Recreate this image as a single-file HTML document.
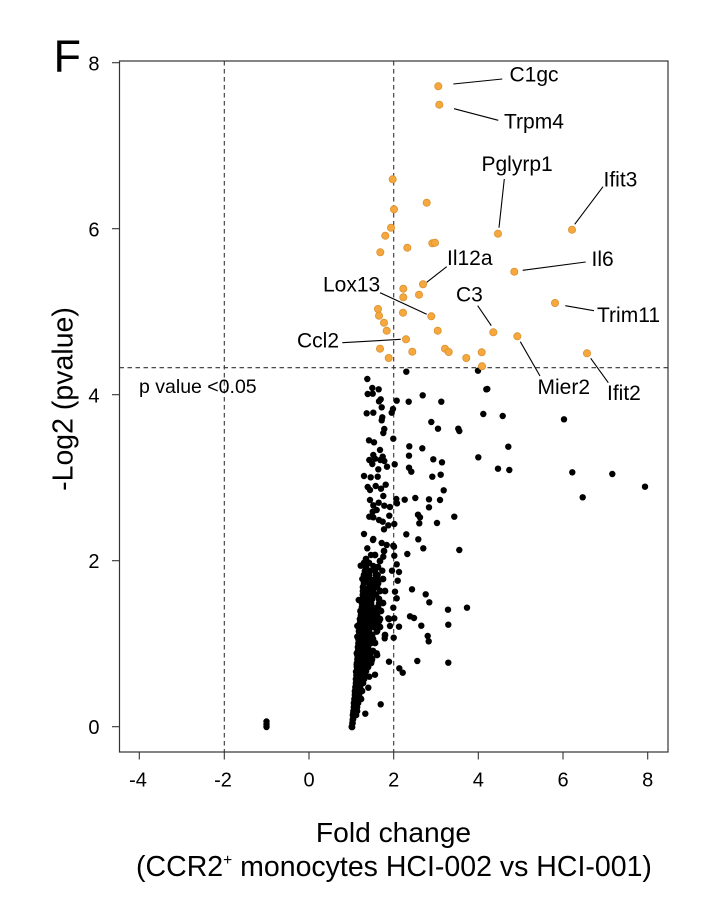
<!DOCTYPE html>
<html>
<head>
<meta charset="utf-8">
<style>
html,body{margin:0;padding:0;background:#fff;}
svg{display:block;}
text{font-family:"Liberation Sans",Arial,sans-serif;fill:#000;}
</style>
</head>
<body>
<svg width="722" height="900" viewBox="0 0 722 900" xmlns="http://www.w3.org/2000/svg">
<rect x="0" y="0" width="722" height="900" fill="#fff"/>

<!-- Panel letter -->
<text x="53.5" y="71.7" font-size="45">F</text>

<!-- plot box -->
<rect x="119.5" y="61" width="548.5" height="691" fill="none" stroke="#333" stroke-width="1.2"/>

<!-- dashed lines -->
<g stroke="#333" stroke-width="1.1" stroke-dasharray="4.5,3.5" fill="none">
<line x1="224.3" y1="61" x2="224.3" y2="752"/>
<line x1="393.7" y1="61" x2="393.7" y2="752"/>
<line x1="119.5" y1="367.7" x2="668" y2="367.7"/>
</g>

<!-- y ticks -->
<g stroke="#333" stroke-width="1.1">
<line x1="112" y1="726.7" x2="119.5" y2="726.7"/>
<line x1="112" y1="560.7" x2="119.5" y2="560.7"/>
<line x1="112" y1="394.7" x2="119.5" y2="394.7"/>
<line x1="112" y1="228.7" x2="119.5" y2="228.7"/>
<line x1="112" y1="62.7" x2="119.5" y2="62.7"/>
<!-- x ticks -->
<line x1="139.3" y1="752" x2="139.3" y2="759.5"/>
<line x1="224.3" y1="752" x2="224.3" y2="759.5"/>
<line x1="309" y1="752" x2="309" y2="759.5"/>
<line x1="393.7" y1="752" x2="393.7" y2="759.5"/>
<line x1="478.3" y1="752" x2="478.3" y2="759.5"/>
<line x1="563" y1="752" x2="563" y2="759.5"/>
<line x1="647.7" y1="752" x2="647.7" y2="759.5"/>
</g>

<g font-size="20" text-anchor="end">
<text x="99.5" y="734">0</text>
<text x="99.5" y="568">2</text>
<text x="99.5" y="402.5">4</text>
<text x="99.5" y="236.5">6</text>
<text x="99.5" y="70.5">8</text>
</g>
<g font-size="20" text-anchor="middle">
<text x="138" y="786.7">-4</text>
<text x="223" y="786.7">-2</text>
<text x="309" y="786.7">0</text>
<text x="393.7" y="786.7">2</text>
<text x="478.3" y="786.7">4</text>
<text x="563" y="786.7">6</text>
<text x="647.7" y="786.7">8</text>
</g>

<!-- axis labels -->
<text transform="translate(72.5,399) rotate(-90)" font-size="28.5" text-anchor="middle">-Log2 (pvalue)</text>
<text x="393.5" y="842" font-size="28.2" text-anchor="middle">Fold change</text>
<text x="394" y="876" font-size="28.5" text-anchor="middle">(CCR2<tspan font-size="15.5" dy="-11">+</tspan><tspan dy="11"> monocytes HCI-002 vs HCI-001)</tspan></text>

<text x="139" y="393" font-size="19.5">p value &lt;0.05</text>

<!-- black points -->
<g fill="#000">
<circle cx="266.5" cy="721.5" r="3.2"/><circle cx="266.5" cy="724.5" r="3.2"/><circle cx="266.5" cy="727" r="3.2"/>
<!-- sparse/listed -->
<circle cx="406.3" cy="371.7" r="3.2"/><circle cx="478" cy="370.7" r="3.2"/><circle cx="367.3" cy="379" r="3.2"/>
<circle cx="372.3" cy="388" r="3.2"/><circle cx="378.7" cy="389.3" r="3.2"/><circle cx="367.7" cy="394" r="3.2"/>
<circle cx="372.7" cy="393.7" r="3.2"/><circle cx="486.3" cy="389.3" r="3.2"/><circle cx="422.7" cy="395.3" r="3.2"/>
<circle cx="380.7" cy="399.3" r="3.2"/><circle cx="379" cy="401.3" r="3.2"/><circle cx="396.7" cy="400.7" r="3.2"/>
<circle cx="408.7" cy="401.7" r="3.2"/><circle cx="441.3" cy="401.7" r="3.2"/><circle cx="381.7" cy="407.3" r="3.2"/>
<circle cx="393" cy="409" r="3.2"/><circle cx="366.7" cy="413.3" r="3.2"/><circle cx="373.3" cy="412.7" r="3.2"/>
<circle cx="391.7" cy="412.7" r="3.2"/><circle cx="483.3" cy="414" r="3.2"/><circle cx="382.3" cy="417.3" r="3.2"/>
<circle cx="381.7" cy="420.3" r="3.2"/><circle cx="431.3" cy="422" r="3.2"/><circle cx="438" cy="428.7" r="3.2"/>
<circle cx="458.3" cy="428.7" r="3.2"/><circle cx="459.3" cy="431" r="3.2"/><circle cx="384.3" cy="429" r="3.2"/>
<circle cx="383.3" cy="433" r="3.2"/><circle cx="393.3" cy="438.7" r="3.2"/><circle cx="369" cy="440.3" r="3.2"/>
<circle cx="374" cy="442.3" r="3.2"/><circle cx="409.3" cy="446.3" r="3.2"/><circle cx="422.3" cy="448.3" r="3.2"/>
<circle cx="380" cy="450" r="3.2"/><circle cx="373.3" cy="455" r="3.2"/><circle cx="382.7" cy="456.7" r="3.2"/>
<circle cx="369.3" cy="460" r="3.2"/><circle cx="375" cy="458.7" r="3.2"/><circle cx="380.3" cy="460" r="3.2"/>
<circle cx="384.3" cy="461" r="3.2"/><circle cx="409" cy="455.7" r="3.2"/><circle cx="478.3" cy="457.3" r="3.2"/>
<circle cx="433.3" cy="459.3" r="3.2"/><circle cx="442" cy="462.3" r="3.2"/><circle cx="372.3" cy="464" r="3.2"/>
<circle cx="394.7" cy="464.3" r="3.2"/><circle cx="387" cy="466.7" r="3.2"/><circle cx="378.3" cy="469.3" r="3.2"/>
<circle cx="409" cy="467.7" r="3.2"/><circle cx="411.3" cy="471.7" r="3.2"/><circle cx="498" cy="468.7" r="3.2"/>
<circle cx="364" cy="476" r="3.2"/><circle cx="370.7" cy="477.3" r="3.2"/><circle cx="377.7" cy="476.7" r="3.2"/>
<circle cx="432.3" cy="476.7" r="3.2"/><circle cx="440.7" cy="474.7" r="3.2"/><circle cx="367.7" cy="487" r="3.2"/>
<circle cx="370" cy="490" r="3.2"/><circle cx="375.7" cy="486" r="3.2"/><circle cx="381" cy="488.7" r="3.2"/>
<circle cx="385.7" cy="484.7" r="3.2"/><circle cx="383.3" cy="496" r="3.2"/><circle cx="443.7" cy="490.3" r="3.2"/>
<circle cx="370" cy="500" r="3.2"/><circle cx="373.3" cy="505.3" r="3.2"/><circle cx="378.7" cy="502.7" r="3.2"/>
<circle cx="384.3" cy="505.7" r="3.2"/><circle cx="390" cy="507" r="3.2"/><circle cx="396.3" cy="499" r="3.2"/>
<circle cx="397" cy="503.3" r="3.2"/><circle cx="404.7" cy="499.7" r="3.2"/><circle cx="415.3" cy="498" r="3.2"/>
<circle cx="429" cy="499.3" r="3.2"/><circle cx="440" cy="500" r="3.2"/><circle cx="429" cy="507.3" r="3.2"/>
<circle cx="372.7" cy="511.7" r="3.2"/><circle cx="376.7" cy="510" r="3.2"/><circle cx="389.3" cy="515.7" r="3.2"/>
<circle cx="369.3" cy="516.7" r="3.2"/><circle cx="373.3" cy="517.3" r="3.2"/><circle cx="379" cy="520" r="3.2"/>
<circle cx="382.7" cy="521.7" r="3.2"/><circle cx="418" cy="514.7" r="3.2"/><circle cx="420" cy="517.3" r="3.2"/>
<circle cx="454.3" cy="516.7" r="3.2"/><circle cx="394.3" cy="524" r="3.2"/><circle cx="388.3" cy="525.3" r="3.2"/>
<circle cx="384" cy="529.3" r="3.2"/><circle cx="419.3" cy="523.3" r="3.2"/><circle cx="437" cy="523" r="3.2"/>
<circle cx="364" cy="534" r="3.2"/><circle cx="406.3" cy="534.3" r="3.2"/><circle cx="418.3" cy="539.3" r="3.2"/>
<circle cx="373.3" cy="539" r="3.2"/><circle cx="381.7" cy="543" r="3.2"/><circle cx="386.7" cy="545" r="3.2"/>
<circle cx="393.3" cy="545.7" r="3.2"/><circle cx="367.3" cy="548.3" r="3.2"/><circle cx="423.3" cy="548.3" r="3.2"/>
<circle cx="459.3" cy="550" r="3.2"/>
<circle cx="373" cy="540" r="3.2"/><circle cx="394" cy="546.7" r="3.2"/><circle cx="407.3" cy="554" r="3.2"/>
<circle cx="394.3" cy="555.7" r="3.2"/><circle cx="383.3" cy="556.7" r="3.2"/><circle cx="371" cy="555" r="3.2"/>
<circle cx="365.7" cy="561.7" r="3.2"/><circle cx="360.7" cy="565.7" r="3.2"/><circle cx="373.3" cy="566" r="3.2"/>
<circle cx="396.7" cy="564.3" r="3.2"/><circle cx="392" cy="570.7" r="3.2"/><circle cx="399" cy="572" r="3.2"/>
<circle cx="382.3" cy="570.7" r="3.2"/><circle cx="377.7" cy="575" r="3.2"/><circle cx="362.3" cy="579" r="3.2"/>
<circle cx="372.3" cy="580" r="3.2"/><circle cx="397.7" cy="580.7" r="3.2"/><circle cx="378.3" cy="583.3" r="3.2"/>
<circle cx="368.3" cy="588.3" r="3.2"/><circle cx="395" cy="591.7" r="3.2"/><circle cx="412" cy="589.3" r="3.2"/>
<circle cx="425.7" cy="594.3" r="3.2"/><circle cx="362.7" cy="595" r="3.2"/><circle cx="374" cy="594.3" r="3.2"/>
<circle cx="396.7" cy="598.3" r="3.2"/><circle cx="358.7" cy="600" r="3.2"/><circle cx="429.3" cy="602.3" r="3.2"/>
<circle cx="379" cy="603.3" r="3.2"/><circle cx="363.3" cy="605" r="3.2"/><circle cx="369.3" cy="606.7" r="3.2"/>
<circle cx="393.3" cy="607.7" r="3.2"/><circle cx="448" cy="609.7" r="3.2"/><circle cx="467" cy="607.7" r="3.2"/>
<circle cx="375" cy="611" r="3.2"/><circle cx="360.7" cy="611" r="3.2"/><circle cx="410" cy="616.3" r="3.2"/>
<circle cx="414" cy="618" r="3.2"/><circle cx="388.3" cy="618.3" r="3.2"/><circle cx="394.3" cy="618.3" r="3.2"/>
<circle cx="379.3" cy="621" r="3.2"/><circle cx="363.3" cy="621.3" r="3.2"/><circle cx="371.3" cy="621.7" r="3.2"/>
<circle cx="357.3" cy="626" r="3.2"/><circle cx="366" cy="627.3" r="3.2"/><circle cx="390" cy="626" r="3.2"/>
<circle cx="399" cy="626.7" r="3.2"/><circle cx="421.3" cy="625.7" r="3.2"/><circle cx="448.3" cy="624.7" r="3.2"/>
<circle cx="376.7" cy="631.7" r="3.2"/><circle cx="362" cy="634" r="3.2"/><circle cx="357.3" cy="636.7" r="3.2"/>
<circle cx="384.7" cy="638.3" r="3.2"/><circle cx="393.7" cy="637.7" r="3.2"/><circle cx="427.7" cy="636" r="3.2"/>
<circle cx="428.7" cy="641.3" r="3.2"/><circle cx="371.3" cy="641.7" r="3.2"/><circle cx="359.3" cy="646" r="3.2"/>
<circle cx="364.3" cy="649.3" r="3.2"/><circle cx="376.7" cy="653.3" r="3.2"/><circle cx="356.7" cy="653.3" r="3.2"/>
<circle cx="360" cy="660" r="3.2"/><circle cx="371.7" cy="660.7" r="3.2"/><circle cx="389" cy="661.7" r="3.2"/>
<circle cx="417.3" cy="661" r="3.2"/><circle cx="448.3" cy="662.7" r="3.2"/><circle cx="356.7" cy="665" r="3.2"/>
<circle cx="364.7" cy="666.7" r="3.2"/><circle cx="356" cy="671.7" r="3.2"/><circle cx="375" cy="674.7" r="3.2"/>
<circle cx="369.3" cy="676.7" r="3.2"/><circle cx="399.3" cy="668.3" r="3.2"/><circle cx="402.7" cy="672.7" r="3.2"/>
<circle cx="356.7" cy="680" r="3.2"/><circle cx="356" cy="686.7" r="3.2"/><circle cx="368.3" cy="687.7" r="3.2"/>
<circle cx="355" cy="693.3" r="3.2"/><circle cx="359.3" cy="698.3" r="3.2"/><circle cx="380.7" cy="704.3" r="3.2"/>
<circle cx="354" cy="706.7" r="3.2"/><circle cx="365.3" cy="713.7" r="3.2"/><circle cx="353.3" cy="713.3" r="3.2"/>
<circle cx="352.7" cy="720" r="3.2"/><circle cx="351.7" cy="726.7" r="3.2"/>
<!-- right outliers -->
<circle cx="502.7" cy="416" r="3.2"/><circle cx="564" cy="419.3" r="3.2"/><circle cx="508.3" cy="446.7" r="3.2"/>
<circle cx="509.3" cy="470" r="3.2"/><circle cx="572.3" cy="472.3" r="3.2"/><circle cx="612.3" cy="474" r="3.2"/>
<circle cx="645" cy="486.7" r="3.2"/><circle cx="582.7" cy="497.3" r="3.2"/><circle cx="487.3" cy="389" r="3.2"/>
<!-- dense band -->
<circle cx="352" cy="727" r="3.4"/><circle cx="352.5" cy="723" r="3.4"/><circle cx="353" cy="719" r="3.4"/>
<circle cx="353" cy="715" r="3.4"/><circle cx="356" cy="715" r="3.4"/>
<circle cx="353.5" cy="711" r="3.4"/><circle cx="357" cy="711" r="3.4"/>
<circle cx="354" cy="707" r="3.4"/><circle cx="357" cy="707" r="3.4"/>
<circle cx="354" cy="703" r="3.4"/><circle cx="358" cy="703" r="3.4"/>
<circle cx="354.5" cy="699" r="3.4"/><circle cx="358" cy="699" r="3.4"/><circle cx="361" cy="699" r="3.4"/>
<circle cx="355" cy="695" r="3.4"/><circle cx="359" cy="695" r="3.4"/>
<circle cx="355" cy="691" r="3.4"/><circle cx="359" cy="691" r="3.4"/><circle cx="362" cy="691" r="3.4"/>
<circle cx="355.5" cy="687" r="3.4"/><circle cx="360" cy="687" r="3.4"/>
<circle cx="356" cy="683" r="3.4"/><circle cx="360" cy="683" r="3.4"/><circle cx="363" cy="683" r="3.4"/>
<circle cx="356" cy="679" r="3.4"/><circle cx="360" cy="679" r="3.4"/><circle cx="364" cy="679" r="3.4"/>
<circle cx="356.5" cy="675" r="3.4"/><circle cx="361" cy="675" r="3.4"/><circle cx="365" cy="675" r="3.4"/>
<circle cx="357" cy="671" r="3.4"/><circle cx="361" cy="671" r="3.4"/><circle cx="366" cy="671" r="3.4"/>
<circle cx="357" cy="667" r="3.4"/><circle cx="361" cy="667" r="3.4"/><circle cx="364" cy="667" r="3.4"/><circle cx="368" cy="667" r="3.4"/>
<circle cx="357" cy="663" r="3.4"/><circle cx="362" cy="663" r="3.4"/><circle cx="366" cy="663" r="3.4"/><circle cx="371" cy="663" r="3.4"/>
<circle cx="357.5" cy="659" r="3.4"/><circle cx="362" cy="659" r="3.4"/><circle cx="367" cy="659" r="3.4"/><circle cx="372" cy="659" r="3.4"/>
<circle cx="357.5" cy="655" r="3.4"/><circle cx="362" cy="655" r="3.4"/><circle cx="366" cy="655" r="3.4"/><circle cx="370" cy="655" r="3.4"/><circle cx="377" cy="655" r="3.4"/>
<circle cx="358" cy="651" r="3.4"/><circle cx="362" cy="651" r="3.4"/><circle cx="367" cy="651" r="3.4"/><circle cx="373" cy="651" r="3.4"/>
<circle cx="358" cy="647" r="3.4"/><circle cx="363" cy="647" r="3.4"/><circle cx="368" cy="647" r="3.4"/>
<circle cx="358.5" cy="643" r="3.4"/><circle cx="362" cy="643" r="3.4"/><circle cx="367" cy="643" r="3.4"/><circle cx="371" cy="643" r="3.4"/><circle cx="375" cy="643" r="3.4"/>
<circle cx="358.5" cy="639" r="3.4"/><circle cx="363" cy="639" r="3.4"/><circle cx="368" cy="639" r="3.4"/><circle cx="373" cy="639" r="3.4"/>
<circle cx="359" cy="635" r="3.4"/><circle cx="363" cy="635" r="3.4"/><circle cx="368" cy="635" r="3.4"/><circle cx="372" cy="635" r="3.4"/><circle cx="385" cy="635" r="3.4"/>
<circle cx="359" cy="631" r="3.4"/><circle cx="364" cy="631" r="3.4"/><circle cx="369" cy="631" r="3.4"/><circle cx="377" cy="631" r="3.4"/>
<circle cx="359.5" cy="627" r="3.4"/><circle cx="364" cy="627" r="3.4"/><circle cx="369" cy="627" r="3.4"/><circle cx="374" cy="627" r="3.4"/><circle cx="380" cy="627" r="3.4"/>
<circle cx="360" cy="623" r="3.4"/><circle cx="365" cy="623" r="3.4"/><circle cx="370" cy="623" r="3.4"/><circle cx="376" cy="623" r="3.4"/>
<circle cx="360" cy="619" r="3.4"/><circle cx="364" cy="619" r="3.4"/><circle cx="369" cy="619" r="3.4"/><circle cx="374" cy="619" r="3.4"/><circle cx="380" cy="619" r="3.4"/><circle cx="389" cy="619" r="3.4"/>
<circle cx="361" cy="615" r="3.4"/><circle cx="366" cy="615" r="3.4"/><circle cx="371" cy="615" r="3.4"/><circle cx="377" cy="615" r="3.4"/>
<circle cx="360.5" cy="611" r="3.4"/><circle cx="365" cy="611" r="3.4"/><circle cx="370" cy="611" r="3.4"/><circle cx="381" cy="611" r="3.4"/>
<circle cx="362" cy="607" r="3.4"/><circle cx="367" cy="607" r="3.4"/><circle cx="372" cy="607" r="3.4"/><circle cx="378" cy="607" r="3.4"/>
<circle cx="362" cy="603" r="3.4"/><circle cx="366" cy="603" r="3.4"/><circle cx="371" cy="603" r="3.4"/><circle cx="383" cy="603" r="3.4"/>
<circle cx="362.5" cy="599" r="3.4"/><circle cx="367" cy="599" r="3.4"/><circle cx="372" cy="599" r="3.4"/><circle cx="379" cy="599" r="3.4"/>
<circle cx="366" cy="595" r="3.4"/><circle cx="371" cy="595" r="3.4"/><circle cx="376" cy="595" r="3.4"/>
<circle cx="363" cy="591" r="3.4"/><circle cx="368" cy="591" r="3.4"/><circle cx="373" cy="591" r="3.4"/><circle cx="380" cy="591" r="3.4"/><circle cx="385" cy="591" r="3.4"/>
<circle cx="363" cy="587" r="3.4"/><circle cx="372" cy="587" r="3.4"/><circle cx="377" cy="587" r="3.4"/>
<circle cx="364" cy="583" r="3.4"/><circle cx="369" cy="583" r="3.4"/><circle cx="374" cy="583" r="3.4"/>
<circle cx="367" cy="579" r="3.4"/><circle cx="377" cy="579" r="3.4"/><circle cx="383" cy="579" r="3.4"/>
<circle cx="364" cy="575" r="3.4"/><circle cx="369" cy="575" r="3.4"/><circle cx="376" cy="575" r="3.4"/>
<circle cx="365" cy="571" r="3.4"/><circle cx="370" cy="571" r="3.4"/><circle cx="375" cy="571" r="3.4"/>
<circle cx="366" cy="567" r="3.4"/><circle cx="378" cy="567" r="3.4"/>
<circle cx="364" cy="563" r="3.4"/><circle cx="369" cy="563" r="3.4"/><circle cx="380" cy="561" r="3.4"/>
<circle cx="366" cy="559" r="3.4"/><circle cx="375" cy="555" r="3.4"/><circle cx="384" cy="551" r="3.4"/>
</g>

<!-- orange points -->
<g fill="#F6A83E" stroke="#D9912F" stroke-width="0.8">
<circle cx="438.3" cy="86.3" r="3.6"/><circle cx="439.3" cy="104.7" r="3.6"/><circle cx="392.7" cy="179.3" r="3.6"/>
<circle cx="426.7" cy="202.7" r="3.6"/><circle cx="394" cy="209.3" r="3.6"/><circle cx="391" cy="227.7" r="3.6"/>
<circle cx="385.3" cy="235.7" r="3.6"/><circle cx="432.3" cy="243.3" r="3.6"/><circle cx="435" cy="242.7" r="3.6"/>
<circle cx="498" cy="233.7" r="3.6"/><circle cx="572" cy="229.7" r="3.6"/><circle cx="407.3" cy="247.7" r="3.6"/>
<circle cx="380.3" cy="252.3" r="3.6"/><circle cx="423" cy="284.3" r="3.6"/><circle cx="514.3" cy="271.7" r="3.6"/>
<circle cx="403.3" cy="288.7" r="3.6"/><circle cx="403.3" cy="297.3" r="3.6"/><circle cx="419" cy="294.7" r="3.6"/>
<circle cx="378" cy="309" r="3.6"/><circle cx="379" cy="315.7" r="3.6"/><circle cx="384" cy="322.7" r="3.6"/>
<circle cx="386.7" cy="330.7" r="3.6"/><circle cx="403" cy="312.7" r="3.6"/><circle cx="431.3" cy="316.3" r="3.6"/>
<circle cx="437.7" cy="330.7" r="3.6"/><circle cx="493.3" cy="332.3" r="3.6"/><circle cx="555" cy="303" r="3.6"/>
<circle cx="517.3" cy="336.3" r="3.6"/><circle cx="587" cy="353.3" r="3.6"/><circle cx="406" cy="339.3" r="3.6"/>
<circle cx="380" cy="348.7" r="3.6"/><circle cx="412.3" cy="351.7" r="3.6"/><circle cx="445" cy="348.7" r="3.6"/>
<circle cx="448.7" cy="352" r="3.6"/><circle cx="388.7" cy="358" r="3.6"/><circle cx="466.3" cy="358" r="3.6"/>
<circle cx="481.7" cy="352.3" r="3.6"/><circle cx="482" cy="366.3" r="3.6"/>
</g>

<!-- leader lines -->
<g stroke="#000" stroke-width="1.1">
<line x1="453.3" y1="84" x2="502.3" y2="79"/>
<line x1="454" y1="108.7" x2="498.3" y2="120.3"/>
<line x1="504.3" y1="179" x2="499" y2="227.7"/>
<line x1="603" y1="186.7" x2="574.7" y2="224.3"/>
<line x1="446.7" y1="266.7" x2="426.7" y2="282.3"/>
<line x1="380" y1="292.7" x2="426.7" y2="314.3"/>
<line x1="477.7" y1="305.7" x2="491.3" y2="325.7"/>
<line x1="342.3" y1="342.7" x2="400.7" y2="339.3"/>
<line x1="522.7" y1="270.3" x2="585.7" y2="262"/>
<line x1="565.3" y1="305.7" x2="594" y2="310.7"/>
<line x1="520.3" y1="341.7" x2="540" y2="376"/>
<line x1="590.7" y1="358.3" x2="608.3" y2="382.7"/>
</g>

<!-- gene labels -->
<g font-size="21">
<text x="509.5" y="81.7">C1gc</text>
<text x="504" y="128.3">Trpm4</text>
<text x="481.5" y="171">Pglyrp1</text>
<text x="603.5" y="186.7">Ifit3</text>
<text x="447" y="265">Il12a</text>
<text x="591.5" y="266">Il6</text>
<text x="456" y="301.7">C3</text>
<text x="597" y="322">Trim11</text>
<text x="537.5" y="394">Mier2</text>
<text x="607" y="400">Ifit2</text>
<text x="323" y="291.7">Lox13</text>
<text x="297" y="347.3">Ccl2</text>
</g>
</svg>
</body>
</html>
